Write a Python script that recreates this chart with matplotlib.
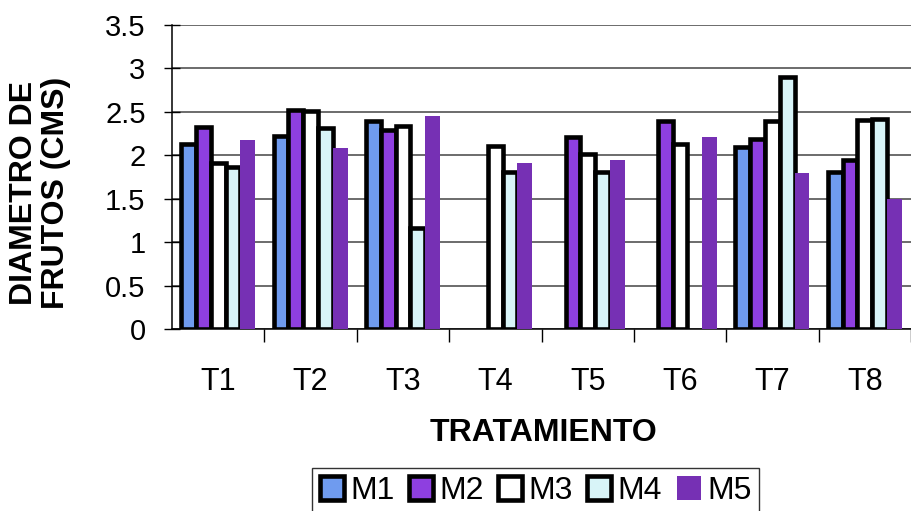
import matplotlib
matplotlib.use("Agg")
import matplotlib.pyplot as plt
from matplotlib.patches import Patch
import numpy as np

plt.rcParams['font.family'] = ['Liberation Sans', 'DejaVu Sans']

treatments = ["T1", "T2", "T3", "T4", "T5", "T6", "T7", "T8"]
series_names = ["M1", "M2", "M3", "M4", "M5"]
m1 = [2.13, 2.22, 2.40, 0.00, 0.00, 0.00, 2.10, 1.81]
m2 = [2.33, 2.52, 2.29, 0.00, 2.21, 2.40, 2.19, 1.94]
m3 = [1.91, 2.51, 2.34, 2.11, 2.01, 2.13, 2.40, 2.41]
m4 = [1.87, 2.31, 1.16, 1.81, 1.81, 0.00, 2.90, 2.42]
m5 = [2.18, 2.08, 2.45, 1.91, 1.94, 2.21, 1.80, 1.50]
values = [m1, m2, m3, m4, m5]
yticks = [0, 0.5, 1, 1.5, 2, 2.5, 3, 3.5]
ytick_labels = ["0", "0.5", "1", "1.5", "2", "2.5", "3", "3.5"]

colors = ["#6f9bef", "#8e3fe0", "#ffffff", "#d8f4f8", "#7630b4"]
edges = ["black", "black", "black", "black", "none"]
edge_w = [3.3, 3.3, 3.3, 3.3, 0]

W, H = 911, 511
fig = plt.figure(figsize=(W / 100, H / 100), dpi=100)
ax = fig.add_axes([172 / W, (H - 329) / H, (W - 172) / W, 304 / H])

x = np.arange(len(treatments))
bw = 0.16
for i, (vals, c, ec, lw) in enumerate(zip(values, colors, edges, edge_w)):
    vals = np.asarray(vals, dtype=float)
    keep = vals > 0  # empty measurements draw no bar
    off = (i - 2) * bw
    ax.bar(x[keep] + off, vals[keep], width=bw, color=c, edgecolor=ec,
           linewidth=lw, zorder=3, label=series_names[i])

ax.set_ylim(0, 3.5)
ax.set_xlim(-0.5, -0.5 + (W - 172) / 93.0)
ax.set_yticks(yticks)
ax.set_yticklabels(ytick_labels, fontsize=21)
ax.set_xticks(x)
ax.set_xticklabels(treatments, fontsize=22)
ax.tick_params(axis='x', which='major', length=0, pad=27)
ax.set_xticks(np.arange(len(treatments)) + 0.5, minor=True)
ax.tick_params(axis='x', which='minor', length=9, width=1, direction='out')
ax.tick_params(axis='y', length=12, width=1, direction='inout', pad=13)

ax.yaxis.grid(True, color='#444444', linewidth=1.1, zorder=0)
ax.set_axisbelow(True)
for s in ['top', 'right']:
    ax.spines[s].set_visible(False)
ax.spines['left'].set_linewidth(1.1)
ax.spines['bottom'].set_linewidth(1.1)

fig.text(40 / W, 1 - 193 / H, "DIAMETRO DE\nFRUTOS (CMS)", rotation=90,
         ha='center', va='center', fontsize=23, fontweight='bold',
         multialignment='center', linespacing=1.1)
fig.text(543 / W, 1 - 433 / H, "TRATAMIENTO", ha='center', va='center',
         fontsize=23, fontweight='bold')

handles = [Patch(facecolor=c, edgecolor=('black' if ec != 'none' else c),
                 linewidth=(3.3 if ec != 'none' else 0)) for c, ec in zip(colors, edges)]
leg = fig.legend(handles, series_names, loc='upper left',
                 bbox_to_anchor=(312 / W, 1 - 468 / H), ncol=5, fontsize=23,
                 frameon=True, fancybox=False, handlelength=0.75, handleheight=0.75,
                 handletextpad=0.2, columnspacing=0.45, borderpad=0.25,
                 borderaxespad=0)
leg.get_frame().set_edgecolor('black')
leg.get_frame().set_linewidth(1)

fig.savefig("out.png", dpi=100)
